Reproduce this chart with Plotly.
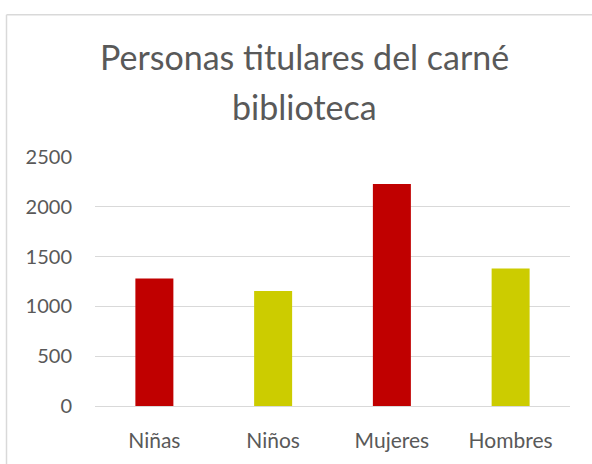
import plotly.graph_objects as go

categories = ["Niñas", "Niños", "Mujeres", "Hombres"]
values = [1280, 1155, 2230, 1380]
bar_colors = ["#C00000", "#CCCC00", "#C00000", "#CCCC00"]
y_ticks = [0, 500, 1000, 1500, 2000, 2500]
title_lines = ["Personas titulares del carné", "biblioteca"]

W, H = 592, 464
L, R, T, B = 95, 22, 157, 54
pw, ph = W - L - R, H - T - B

def px_to_paper_x(px):
    return (px - L) / pw

def px_to_paper_y(py):
    return (H - B - py) / ph

fig = go.Figure(go.Bar(
    x=categories, y=values,
    marker=dict(color=bar_colors, line=dict(width=0)),
    width=0.32,
))

font_family = "Lato, 'Open Sans', sans-serif"
gray = "#595959"

fig.update_layout(
    width=W, height=H,
    margin=dict(l=L, r=R, t=T, b=B),
    paper_bgcolor="white", plot_bgcolor="white",
    showlegend=False,
    font=dict(family=font_family, color=gray),
    xaxis=dict(
        showgrid=False, showline=True, linecolor="#D9D9D9", linewidth=1,
        ticks="", tickfont=dict(size=21, color=gray, family=font_family),
        ticklabelstandoff=16, fixedrange=True,
    ),
    yaxis=dict(
        range=[0, 2500], tickvals=y_ticks, ticktext=[str(v) for v in y_ticks],
        showgrid=True, gridcolor="#D9D9D9", gridwidth=1,
        zeroline=False, showline=False, ticks="",
        tickfont=dict(size=20, color=gray, family=font_family),
        ticklabelstandoff=22, fixedrange=True,
    ),
    annotations=[
        dict(text=title_lines[0], x=px_to_paper_x(304), y=px_to_paper_y(78),
             xref="paper", yref="paper", xanchor="center", yanchor="bottom",
             showarrow=False, font=dict(size=34, color=gray, family=font_family)),
        dict(text=title_lines[1], x=px_to_paper_x(304), y=px_to_paper_y(129),
             xref="paper", yref="paper", xanchor="center", yanchor="bottom",
             showarrow=False, font=dict(size=34, color=gray, family=font_family)),
    ],
    shapes=[
        dict(type="line", xref="paper", yref="paper",
             x0=px_to_paper_x(6.5), x1=px_to_paper_x(6.5),
             y0=px_to_paper_y(12.5), y1=px_to_paper_y(470),
             line=dict(color="#D9D9D9", width=1.5)),
        dict(type="line", xref="paper", yref="paper",
             x0=px_to_paper_x(6.5), x1=px_to_paper_x(600),
             y0=px_to_paper_y(12.5), y1=px_to_paper_y(12.5),
             line=dict(color="#D9D9D9", width=1.5)),
    ],
)

fig.write_html("out.html", config={"displayModeBar": False},
               post_script="document.body.style.margin='0';")
